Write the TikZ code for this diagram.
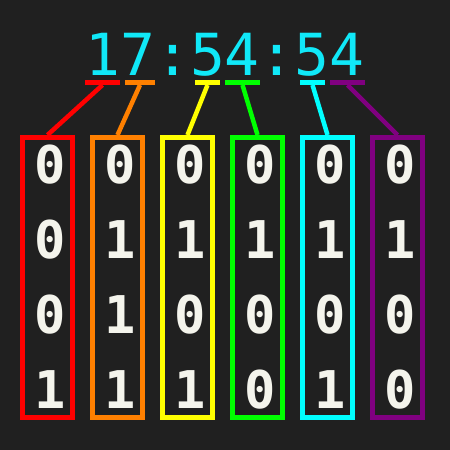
\documentclass[tikz,border=0pt]{standalone}
\usepackage{fontspec}
\newfontfamily\pixfont{DejaVu Sans Mono}
\definecolor{bg}{HTML}{202020}
\definecolor{cred}{HTML}{FF0000}
\definecolor{corange}{HTML}{FF8000}
\definecolor{cyellow}{HTML}{FFFF00}
\definecolor{cgreen}{HTML}{00FF00}
\definecolor{ccyan}{HTML}{00FFFF}
\definecolor{cpurple}{HTML}{800080}
\definecolor{digit}{HTML}{F4F4EC}
\definecolor{timecol}{HTML}{10E8F8}
\tikzset{
  colbox/.style={draw=#1, line width=5pt, minimum width=50pt, minimum height=280pt, inner sep=0pt},
  bar/.style={fill=#1, draw=none, minimum height=5pt, inner sep=0pt, outer sep=0pt},
  conn/.style={draw=#1, line width=4.5pt},
  bitdigit/.style={text=digit, font=\pixfont\bfseries\fontsize{52}{52}\selectfont, inner sep=0pt},
  timetext/.style={text=timecol, font=\pixfont\fontsize{58}{58}\selectfont, inner sep=0pt}
}
\begin{document}
\begin{tikzpicture}[x=1pt,y=-1pt]
\fill[bg] (0,0) rectangle (450,450);
\useasboundingbox (0,0) rectangle (450,450);
\node[timetext] (time) at (225,55) {17:54:54};
% bars
\node[bar=cred, minimum width=35pt] (bar1) at (102.5,82.5) {};
\node[bar=corange, minimum width=30pt] (bar2) at (140,82.5) {};
\node[bar=cyellow, minimum width=25pt] (bar3) at (207.5,82.5) {};
\node[bar=cgreen, minimum width=35pt] (bar4) at (242.5,82.5) {};
\node[bar=ccyan, minimum width=25pt] (bar5) at (312.5,82.5) {};
\node[bar=cpurple, minimum width=35pt] (bar6) at (347.5,82.5) {};
% boxes
\node[colbox=cred] (b1) at (47.5,277.5) {};
\node[colbox=corange] (b2) at (117.5,277.5) {};
\node[colbox=cyellow] (b3) at (187.5,277.5) {};
\node[colbox=cgreen] (b4) at (257.5,277.5) {};
\node[colbox=ccyan] (b5) at (327.5,277.5) {};
\node[colbox=cpurple] (b6) at (397.5,277.5) {};
% connectors
\draw[conn=cred] (bar1.south) -- (b1.north);
\draw[conn=corange] (bar2.south) -- (b2.north);
\draw[conn=cyellow] (bar3.south) -- (b3.north);
\draw[conn=cgreen] (bar4.south) -- (b4.north);
\draw[conn=ccyan] (bar5.south) -- (b5.north);
\draw[conn=cpurple] (bar6.south) -- (b6.north);
% digits
\foreach \c/\x/\a/\b/\d/\e in {1/50/0/0/0/1, 2/120/0/1/1/1, 3/190/0/1/0/1, 4/260/0/1/0/0, 5/330/0/1/0/1, 6/400/0/1/0/0}{
  \node[bitdigit] (d\c a) at (\x,165) {\a};
  \node[bitdigit] (d\c b) at (\x,240) {\b};
  \node[bitdigit] (d\c c) at (\x,315) {\d};
  \node[bitdigit] (d\c d) at (\x,390) {\e};
}
\end{tikzpicture}
\end{document}
